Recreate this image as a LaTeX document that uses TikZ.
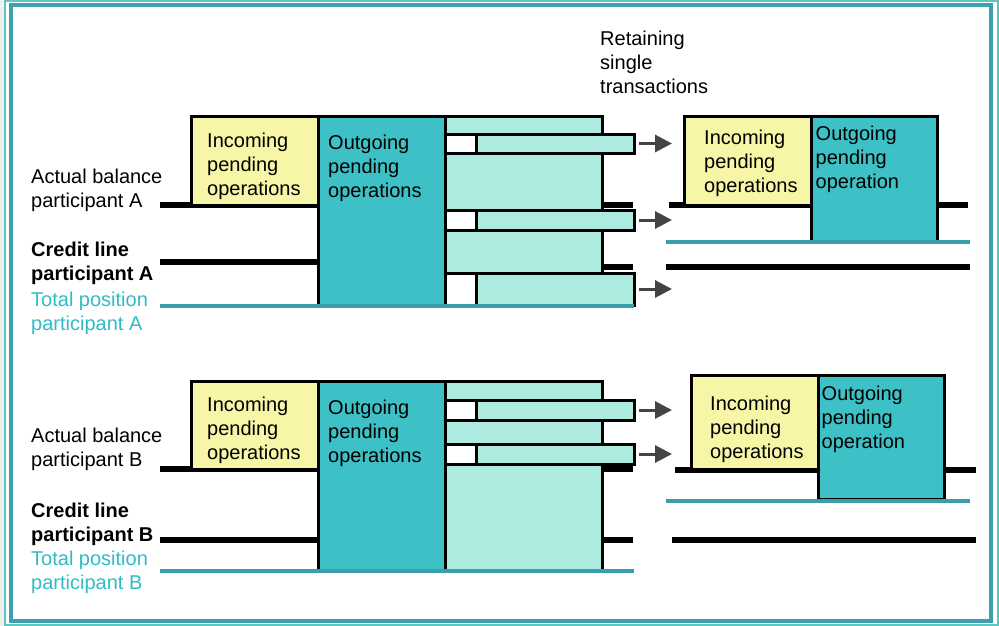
\documentclass[tikz,border=0pt]{standalone}
\usepackage{fontspec}
\setmainfont{Liberation Sans}
\usetikzlibrary{arrows.meta}
\definecolor{yel}{HTML}{F7F5A6}
\definecolor{tealbox}{HTML}{3DC1C6}
\definecolor{cellc}{HTML}{ADEBE0}
\definecolor{tealline}{HTML}{3A9EAB}
\definecolor{tealtext}{HTML}{30BCC6}
\definecolor{frameout}{HTML}{5CC6C0}
\definecolor{framein}{HTML}{3CA0AE}
\definecolor{bggray}{HTML}{EFF0EB}
\definecolor{arrgray}{HTML}{444444}
\tikzset{
  box/.style={draw, line width=3pt, anchor=north west, inner sep=0pt, outer sep=0pt},
  inbox/.style={box, fill=yel},
  outbox/.style={box, fill=tealbox},
  cell/.style={box, fill=cellc},
  hole/.style={box, fill=white},
  txt/.style={font=\fontsize{20}{24}\selectfont, align=left, anchor=north west, inner sep=0pt},
  boldtxt/.style={txt, font=\fontsize{20}{24}\selectfont\bfseries},
  teattxt/.style={txt, text=tealtext},
  bal/.style={line width=6pt},
  posline/.style={line width=4pt, draw=tealline},
  arr/.style={line width=3pt, draw=arrgray, -{Triangle[length=17pt,width=17pt]}}
}
\begin{document}
\begin{tikzpicture}[x=1pt,y=-1pt]
    \useasboundingbox (0,0) rectangle (999,626);
    \fill[white] (0,0) rectangle (999,626);
    \fill[bggray] (0,0) rectangle (4,626);
    \draw[line width=2pt, frameout] (5,1) rectangle (997.5,625);
    \draw[line width=4pt, framein] (11,5.5) rectangle (991,621);
    \node[txt] (retain) at (600,28.2) {\strut Retaining\\single\\transactions};
    % participant A
    \draw[bal] (160,204.5) -- (633,204.5); \draw[bal] (160,261.5) -- (330,261.5);
    \draw[bal] (602,267) -- (633,267);
    \draw[bal] (669,204.5) -- (968,204.5); \draw[bal] (666,267) -- (970,267);
    \node[inbox, minimum width=127pt, minimum height=89pt] (inA) at (191,116) {};
    \node[outbox, minimum width=127pt, minimum height=189pt] (outA) at (318,116) {};
    \node[cell, minimum width=157pt, minimum height=18pt] (cA0) at (445,116) {};
    \node[hole, minimum width=31pt, minimum height=19pt] (hA1) at (445,134) {};
    \node[cell, minimum width=158pt, minimum height=19pt] (sA1) at (476,134) {};
    \node[cell, minimum width=157pt, minimum height=57pt] (cA1) at (445,153) {};
    \node[hole, minimum width=31pt, minimum height=20pt] (hA2) at (445,210) {};
    \node[cell, minimum width=158pt, minimum height=20pt] (sA2) at (476,210) {};
    \node[cell, minimum width=157pt, minimum height=43pt] (cA2) at (445,230) {};
    \node[hole, minimum width=31pt, minimum height=32pt] (hA3) at (445,273) {};
    \node[cell, minimum width=158pt, minimum height=32pt] (sA3) at (476,273) {};
    \node[inbox, minimum width=127pt, minimum height=89pt] (inA2) at (684,116) {};
    \node[outbox, minimum width=126pt, minimum height=125pt] (outA2) at (811,116) {};
    \draw[posline] (160,305.5) -- (634,305.5); \draw[posline] (666,242) -- (970,242);
    \node[txt] (actA) at (31,166.5) {\strut Actual balance\\participant A};
    \node[boldtxt] (credA) at (31,239.2) {\strut Credit line\\participant A};
    \node[teattxt] (totA) at (31,289.2) {\strut Total position\\participant A};
    \node[txt] (inAt) at (207,130.2) {\strut Incoming\\pending\\operations};
    \node[txt] (outAt) at (328,132.5) {\strut Outgoing\\pending\\operations};
    \node[txt] (inA2t) at (704,127.5) {\strut Incoming\\pending\\operations};
    \node[txt] (outA2t) at (815.5,123.2) {\strut Outgoing\\pending\\operation};
    \coordinate (tA1) at ([xshift=38pt]sA1.east); \coordinate (tA2) at ([xshift=38pt]sA2.east);
    \coordinate (tA3) at ([xshift=38pt]sA3.east);
    \draw[arr] ([xshift=5pt]sA1.east) -- (tA1); \draw[arr] ([xshift=5pt]sA2.east) -- (tA2);
    \draw[arr] ([xshift=5pt]sA3.east) -- (tA3);
    % participant B
    \draw[bal] (160,469) -- (633,469); \draw[bal] (160,539.5) -- (633,539.5);
    \draw[bal] (675,469.5) -- (976,469.5); \draw[bal] (672,539.5) -- (976,539.5);
    \node[inbox, minimum width=127pt, minimum height=88pt] (inB) at (191,381) {};
    \node[outbox, minimum width=127pt, minimum height=189pt] (outB) at (318,381) {};
    \node[cell, minimum width=157pt, minimum height=19pt] (cB0) at (445,381) {};
    \node[hole, minimum width=31pt, minimum height=20pt] (hB1) at (445,400) {};
    \node[cell, minimum width=158pt, minimum height=20pt] (sB1) at (476,400) {};
    \node[cell, minimum width=157pt, minimum height=24pt] (cB1) at (445,420) {};
    \node[hole, minimum width=31pt, minimum height=20pt] (hB2) at (445,444) {};
    \node[cell, minimum width=158pt, minimum height=20pt] (sB2) at (476,444) {};
    \node[cell, minimum width=157pt, minimum height=106pt] (cB2) at (445,464) {};
    \node[inbox, minimum width=127pt, minimum height=94pt] (inB2) at (691,375) {};
    \node[outbox, minimum width=126pt, minimum height=124pt] (outB2) at (818,375) {};
    \draw[posline] (160,570.5) -- (634,570.5); \draw[posline] (666,500.5) -- (970,500.5);
    \node[txt] (actB) at (31,425.2) {\strut Actual balance\\participant B};
    \node[boldtxt] (credB) at (31,500.5) {\strut Credit line\\participant B};
    \node[teattxt] (totB) at (31,548.2) {\strut Total position\\participant B};
    \node[txt] (inBt) at (207,394.9) {\strut Incoming\\pending\\operations};
    \node[txt] (outBt) at (328,397.5) {\strut Outgoing\\pending\\operations};
    \node[txt] (inB2t) at (710,393.2) {\strut Incoming\\pending\\operations};
    \node[txt] (outB2t) at (821.5,383.2) {\strut Outgoing\\pending\\operation};
    \coordinate (tB1) at ([xshift=38pt]sB1.east); \coordinate (tB2) at ([xshift=38pt]sB2.east);
    \draw[arr] ([xshift=5pt]sB1.east) -- (tB1); \draw[arr] ([xshift=5pt]sB2.east) -- (tB2);
  \end{tikzpicture}
\end{document}
